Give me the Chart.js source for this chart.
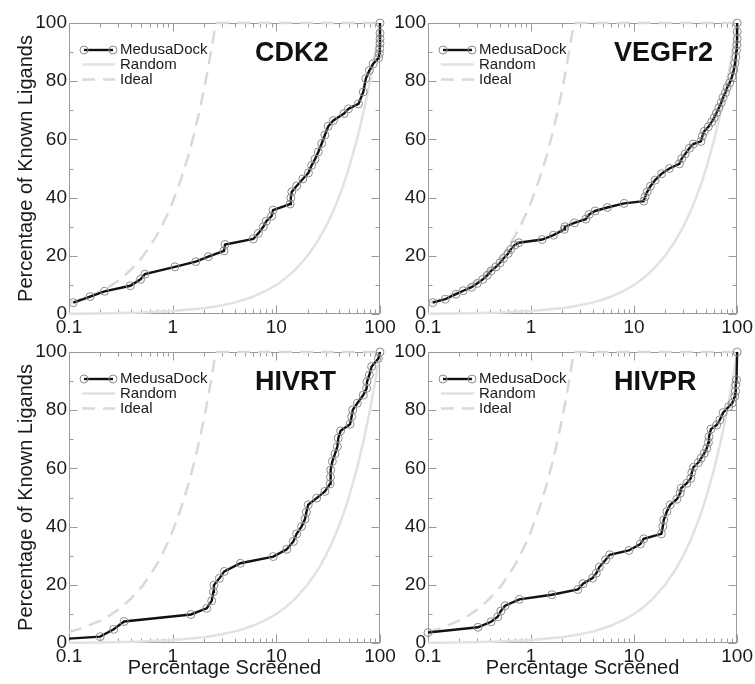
<!DOCTYPE html>
<html>
<head>
<meta charset="utf-8">
<script src="https://cdn.jsdelivr.net/npm/chart.js@4.4.1/dist/chart.umd.min.js"></script>
<style>
    body { margin: 0; background: #fff; }
    #wrap { position: relative; width: 755px; height: 684px; overflow: hidden; }
    canvas { position: absolute; }
</style>
</head>
<body>
<div id="wrap">
    <canvas id="cdk2" width="400" height="340" style="left:0px;top:0px"></canvas>
    <canvas id="vegfr2" width="375" height="340" style="left:380px;top:0px"></canvas>
    <canvas id="hivrt" width="400" height="354" style="left:0px;top:330px"></canvas>
    <canvas id="hivpr" width="375" height="354" style="left:380px;top:330px"></canvas>
</div>
<script>
// axis ticks
var xTickValues = [0.1, 1, 10, 100];
var xMinorTicks = [0.2, 0.3, 0.4, 0.5, 0.6, 0.7, 0.8, 0.9, 2, 3, 4, 5, 6, 7, 8, 9, 20, 30, 40, 50, 60, 70, 80, 90];
var yTickValues = [0, 20, 40, 60, 80, 100];
var yMinorTicks = [10, 30, 50, 70, 90];

var legendLabels = ['MedusaDock', 'Random', 'Ideal'];

// MedusaDock enrichment curves (percentage screened vs percentage of known ligands)
var cdk2X = [0.11, 0.16, 0.22, 0.39, 0.49, 0.54, 1.05, 1.67, 2.21, 3.13, 3.2, 6.0, 6.7, 7.5, 8.0, 9.0, 9.3, 13.6, 13.8, 14.1, 15.7, 18.0, 20.4, 21.9, 23.6, 25.4, 27.4, 29.4, 31.7, 35.5, 45, 49.6, 62, 69, 73, 79, 86, 97, 98.5, 99.5, 100, 100, 100, 100];
var cdk2Y = [3.9, 6.0, 7.8, 9.7, 11.9, 13.7, 16.2, 18.0, 19.7, 21.7, 23.9, 25.8, 27.7, 30.0, 31.9, 33.6, 35.7, 37.8, 39.9, 42.0, 44.0, 46.4, 48.5, 51.1, 53.2, 55.7, 58.6, 61.5, 64.5, 66.5, 68.9, 70.5, 72.2, 76.3, 80.9, 83.7, 86.0, 88.0, 89.5, 91.2, 93.0, 94.6, 96.5, 100];

var vegfr2X = [0.111, 0.147, 0.187, 0.22, 0.265, 0.30, 0.34, 0.376, 0.41, 0.456, 0.50, 0.54, 0.60, 0.635, 0.695, 0.76, 1.28, 1.65, 2.1, 2.13, 2.63, 3.4, 3.66, 4.19, 5.5, 8.0, 12.4, 12.8, 13.4, 14.4, 16.0, 18.5, 22.0, 27.5, 29.0, 31.3, 34.5, 37.5, 44.5, 46, 48, 52.5, 56.6, 60, 63, 66.5, 70, 73, 77, 80, 84.5, 89, 92.8, 95, 97, 98.5, 99.3, 100, 100, 100];
var vegfr2Y = [3.9, 5.1, 6.8, 8.0, 9.2, 10.5, 11.9, 13.3, 14.8, 16.2, 17.6, 19.1, 20.8, 22.2, 23.7, 24.5, 25.6, 27.1, 29.1, 30.0, 31.3, 32.6, 34.2, 35.4, 36.6, 38.0, 38.8, 40.3, 42.0, 43.9, 46.0, 48.2, 50.0, 51.6, 53.4, 55.0, 57.0, 58.4, 59.3, 61.2, 62.8, 64.3, 66.0, 67.5, 69.1, 70.9, 72.6, 74.4, 76.0, 77.8, 79.4, 81.5, 83.8, 86.0, 88.3, 90.6, 92.5, 94.5, 97, 100];

var hivrtX = [0.1, 0.2, 0.27, 0.34, 1.5, 2.13, 2.38, 2.47, 2.5, 2.82, 3.15, 4.5, 9.35, 12.6, 14.6, 15.7, 17.5, 18.9, 19.5, 20.3, 24.5, 29.4, 33, 33.3, 33.5, 34.7, 36.8, 38.8, 39.6, 41.7, 51.4, 53.3, 54.6, 60.4, 69, 74.3, 75, 78.9, 83, 96.4, 100];
var hivrtY = [1.5, 2.2, 4.7, 7.4, 9.8, 11.9, 14.5, 17.6, 19.9, 22.2, 24.6, 27.4, 29.7, 32.2, 34.9, 37.5, 40.0, 42.6, 45.0, 47.5, 49.8, 52.1, 54.7, 57.0, 59.5, 62.4, 65.0, 67.5, 70.4, 72.9, 75.2, 77.8, 80.1, 82.4, 85.2, 87.5, 89.8, 92.1, 95.0, 97.8, 100];

var hivprX = [0.1, 0.305, 0.41, 0.475, 0.51, 0.56, 0.77, 1.59, 2.85, 3.2, 3.95, 4.3, 4.6, 5.3, 5.8, 8.9, 11.5, 12.4, 18.4, 19.0, 19.4, 20.8, 22.4, 26, 28, 28.6, 32.5, 35.5, 36.3, 37.7, 42, 44.7, 48, 50.7, 52.6, 53.3, 55.7, 63.2, 68, 73.3, 83, 89.5, 95, 96.5, 97, 98.5, 100];
var hivprY = [3.6, 5.4, 7.3, 9.0, 11.0, 12.8, 15.0, 16.6, 18.4, 20.4, 22.3, 24.0, 26.1, 28.6, 30.3, 31.8, 34.0, 35.8, 37.5, 40.0, 42.3, 45.2, 47.5, 49.4, 51.5, 53.2, 54.9, 56.6, 58.6, 60.4, 62.0, 63.5, 65.2, 66.9, 68.9, 70.9, 73.5, 74.9, 76.7, 79.2, 81.2, 82.4, 84.7, 86.4, 88.7, 90.4, 100];

// reference curves
var randomX = [0.1, 0.2, 0.5, 1, 2, 3, 4, 5, 6, 8, 10, 12, 15, 20, 25, 30, 35, 40, 45, 50, 60, 70, 80, 90, 100];
var randomY = [0.1, 0.2, 0.5, 1, 2, 3, 4, 5, 6, 8, 10, 12, 15, 20, 25, 30, 35, 40, 45, 50, 60, 70, 80, 90, 100];
var idealX = [0.1, 0.12, 0.15, 0.2, 0.25, 0.3, 0.35, 0.4, 0.5, 0.6, 0.7, 0.8, 0.9, 1, 1.2, 1.4, 1.6, 1.8, 2, 2.2, 2.4, 2.6, 100];
var idealY = [3.8, 4.6, 5.8, 7.7, 9.6, 11.5, 13.5, 15.4, 19.2, 23.1, 26.9, 30.8, 34.6, 38.5, 46.2, 53.8, 61.5, 69.2, 76.9, 84.6, 92.3, 100, 100];

var FONT = '"Liberation Sans", Arial, Helvetica, sans-serif';
Chart.defaults.font.family = FONT;
Chart.defaults.color = '#1a1a1a';

var FRAME_COLOR = '#9a9a9a';
var MEDUSA_COLOR = '#111111';
var MARKER_COLOR = '#8c8c8c';
var RANDOM_COLOR = '#e2e2e2';
var IDEAL_COLOR = '#d9d9d9';
var IDEAL_DASH = [13, 8];

function toPoints(xs, ys) {
    return xs.map(function (x, i) {
        return { x: x, y: ys[i] };
    });
}

// frame box with inward ticks, panel title and in-plot legend
var panelDecor = {
    id: 'panelDecor',

    beforeDatasetsDraw: function (chart) {
        var ctx = chart.ctx;
        var a = chart.chartArea;
        var sx = chart.scales.x;
        var sy = chart.scales.y;
        var l = Math.round(a.left) + 0.5, r = Math.round(a.right) - 0.5;
        var t = Math.round(a.top) + 0.5, b = Math.round(a.bottom) - 0.5;

        ctx.save();
        ctx.strokeStyle = FRAME_COLOR;
        ctx.lineWidth = 1;
        ctx.strokeRect(l, t, r - l, b - t);

        ctx.beginPath();
        function xTick(v, len) {
            var px = Math.round(sx.getPixelForValue(v)) + 0.5;
            ctx.moveTo(px, b); ctx.lineTo(px, b - len);
            ctx.moveTo(px, t); ctx.lineTo(px, t + len);
        }
        function yTick(v, len) {
            var py = Math.round(sy.getPixelForValue(v)) + 0.5;
            ctx.moveTo(l, py); ctx.lineTo(l + len, py);
            ctx.moveTo(r, py); ctx.lineTo(r - len, py);
        }
        xTickValues.forEach(function (v) { xTick(v, 8); });
        xMinorTicks.forEach(function (v) { xTick(v, 4); });
        yTickValues.forEach(function (v) { yTick(v, 8); });
        yMinorTicks.forEach(function (v) { yTick(v, 4); });
        ctx.stroke();
        ctx.restore();
    },

    afterDraw: function (chart, args, opts) {
        var ctx = chart.ctx;
        var a = chart.chartArea;

        ctx.save();
        // panel title
        ctx.fillStyle = '#111';
        ctx.font = 'bold 27px ' + FONT;
        ctx.textAlign = 'left';
        ctx.textBaseline = 'alphabetic';
        ctx.fillText(opts.title, a.left + 186, a.top + 38);

        // legend
        var x0 = a.left + 13, x1 = a.left + 46;
        var rows = [a.top + 27, a.top + 41.5, a.top + 56.5];

        ctx.lineWidth = 2.4;
        ctx.strokeStyle = MEDUSA_COLOR;
        ctx.beginPath();
        ctx.moveTo(x0 + 2, rows[0]); ctx.lineTo(x1 - 2, rows[0]);
        ctx.stroke();
        ctx.lineWidth = 1;
        ctx.strokeStyle = MARKER_COLOR;
        [x0 + 2, x1 - 2].forEach(function (cx) {
            ctx.beginPath();
            ctx.arc(cx, rows[0], 4, 0, Math.PI * 2);
            ctx.stroke();
        });

        ctx.lineWidth = 2.5;
        ctx.strokeStyle = RANDOM_COLOR;
        ctx.beginPath();
        ctx.moveTo(x0, rows[1]); ctx.lineTo(x1, rows[1]);
        ctx.stroke();

        ctx.strokeStyle = IDEAL_COLOR;
        ctx.setLineDash(IDEAL_DASH);
        ctx.beginPath();
        ctx.moveTo(x0, rows[2]); ctx.lineTo(x1, rows[2]);
        ctx.stroke();
        ctx.setLineDash([]);

        ctx.fillStyle = '#1a1a1a';
        ctx.font = '15px ' + FONT;
        ctx.textBaseline = 'middle';
        legendLabels.forEach(function (label, i) {
            ctx.fillText(label, a.left + 51, rows[i]);
        });
        ctx.restore();
    }
};

function makePanel(canvasId, title, xs, ys, cfg) {
    var canvas = document.getElementById(canvasId);

    return new Chart(canvas, {
        type: 'scatter',
        data: {
            datasets: [
                {
                    label: legendLabels[0],
                    data: toPoints(xs, ys),
                    showLine: true,
                    borderColor: MEDUSA_COLOR,
                    borderWidth: 2.4,
                    pointRadius: function (c) {
                        return (cfg.hideFirstMarker && c.dataIndex === 0) ? 0 : 4;
                    },
                    pointBorderColor: MARKER_COLOR,
                    pointBorderWidth: 1,
                    pointBackgroundColor: 'rgba(255,255,255,0)',
                    clip: false
                },
                {
                    label: legendLabels[1],
                    data: toPoints(randomX, randomY),
                    showLine: true,
                    borderColor: RANDOM_COLOR,
                    borderWidth: 2.5,
                    pointRadius: 0,
                    clip: false
                },
                {
                    label: legendLabels[2],
                    data: toPoints(idealX, idealY),
                    showLine: true,
                    borderColor: IDEAL_COLOR,
                    borderWidth: 2.5,
                    borderDash: IDEAL_DASH,
                    pointRadius: 0,
                    clip: false
                }
            ]
        },
        options: {
            responsive: false,
            animation: false,
            events: [],
            layout: { padding: { top: cfg.padTop, right: cfg.padRight, left: 0, bottom: 0 } },
            plugins: {
                legend: { display: false },
                tooltip: { enabled: false },
                panelDecor: { title: title }
            },
            scales: {
                x: {
                    type: 'logarithmic',
                    min: 0.1,
                    max: 100,
                    grid: { display: false, drawTicks: false },
                    border: { display: false },
                    afterBuildTicks: function (scale) {
                        scale.ticks = xTickValues.map(function (v) { return { value: v }; });
                    },
                    ticks: {
                        font: { size: 19 },
                        padding: 2,
                        maxRotation: 0,
                        autoSkip: false,
                        callback: function (v) { return String(v); }
                    },
                    title: {
                        display: cfg.showXTitle,
                        text: 'Percentage Screened',
                        font: { size: 20 },
                        padding: { top: 0, bottom: 4 }
                    },
                    afterFit: function (scale) { scale.height = cfg.xHeight; }
                },
                y: {
                    type: 'linear',
                    min: 0,
                    max: 100,
                    grid: { display: false, drawTicks: false },
                    border: { display: false },
                    afterBuildTicks: function (scale) {
                        scale.ticks = yTickValues.map(function (v) { return { value: v }; });
                    },
                    ticks: { font: { size: 19 }, padding: 2 },
                    title: {
                        display: cfg.showYTitle,
                        text: 'Percentage of Known Ligands',
                        font: { size: 20 },
                        padding: { top: 14, bottom: 0 }
                    },
                    afterFit: function (scale) { scale.width = cfg.yWidth; }
                }
            }
        },
        plugins: [panelDecor]
    });
}

makePanel('cdk2', 'CDK2', cdk2X, cdk2Y, { padTop: 23, padRight: 20, yWidth: 69, xHeight: 26, showYTitle: true, showXTitle: false });
makePanel('vegfr2', 'VEGFr2', vegfr2X, vegfr2Y, { padTop: 23, padRight: 16, yWidth: 48, xHeight: 26, showYTitle: false, showXTitle: false });
makePanel('hivrt', 'HIVRT', hivrtX, hivrtY, { padTop: 22, padRight: 20, yWidth: 69, xHeight: 41, showYTitle: true, showXTitle: true, hideFirstMarker: true });
makePanel('hivpr', 'HIVPR', hivprX, hivprY, { padTop: 22, padRight: 16, yWidth: 48, xHeight: 41, showYTitle: false, showXTitle: true });
</script>
</body>
</html>
